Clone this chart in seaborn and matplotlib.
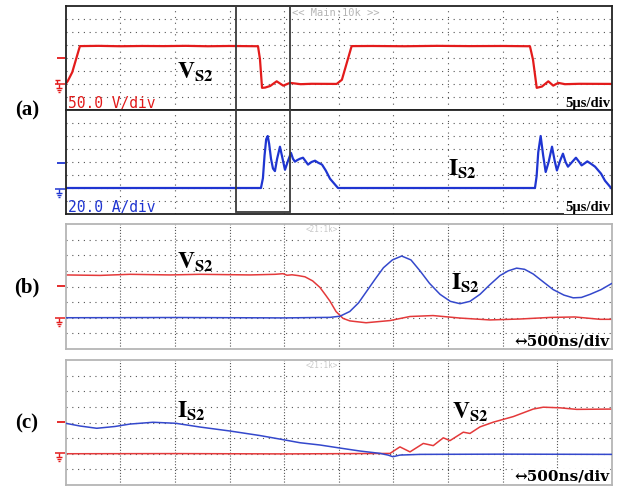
import numpy as np
import pandas as pd
import matplotlib
matplotlib.use("Agg")
import matplotlib.pyplot as plt
from matplotlib.lines import Line2D
from matplotlib.patches import Rectangle
import seaborn as sns

sns.set_style("white")
plt.rcParams['font.family'] = ['DejaVu Sans']
plt.rcParams['mathtext.fontset'] = 'stix'

# ---------------- data ----------------
# Panel (a): 5 us/div, V in volts (50 V/div), I in amps (20 A/div)
a_v_t = [0.0, 0.2, 0.6, 1.3, 3, 5, 7, 9, 11, 13, 15, 17.6, 17.78, 17.97, 18.25, 18.71,
         19.31, 19.91, 20.53, 21.5, 22.5, 24.8, 25.28, 26.17, 28, 31, 34, 37, 40, 42.49,
         42.77, 43.11, 43.59, 44.17, 44.62, 45.08, 45.7, 47, 50]
a_v_val = [0, 12, 45, 145, 146, 144.5, 145.5, 145, 146, 144.5, 145.5, 144.5, 95, -15, -14, -8,
           10, -6.5, 4, -1, 0.5, 0, 16, 145, 145.5, 144.5, 146, 145, 145.5, 144.5,
           93, -15, -10, 10, -6.5, 4, -1, 0.5, 0]
a_i_t = [0.0, 17.87, 18.05, 18.2, 18.35, 18.49, 18.62, 18.79, 18.97, 19.15, 19.35, 19.61,
         19.85, 20.07, 20.35, 20.62, 20.8, 20.98, 21.2, 21.44, 21.72,
         22.18, 22.5, 22.82, 23.1, 23.46, 23.8, 24.19, 24.92, 42.95, 43.1, 43.25, 43.47,
         43.7, 43.93, 44.2, 44.51, 44.75, 44.96, 45.25, 45.51, 45.75,
         45.97, 46.35, 46.70, 47.0, 47.22, 47.5, 47.74, 48.1, 48.45, 49.0, 49.36, 49.97]
a_i_val = [0, 0, 15, 50, 75, 80, 68, 45, 30, 26, 45, 63.5,
           45, 28, 42, 54, 45, 40.5, 43, 45, 46.6,
           36, 40, 42, 39, 36, 27, 14.3, 0, 0, 18, 55, 80,
           50, 24.6, 40, 63.5, 42, 27, 42, 52.8, 40,
           32.8, 40, 46.6, 40, 34.8, 38, 41, 37, 32.8, 22, 11.2, -1]

# Panel (b): 500 ns/div
b_v_t = [0, 314, 588, 955, 1229, 1687, 1916, 1989, 2025, 2071, 2126, 2190, 2260, 2327, 2380,
         2419, 2474, 2538, 2600, 2648, 2749, 2968, 3151, 3362, 3609, 3883, 4158, 4432, 4661,
         4890, 5000]
b_v_val = [137, 135.5, 139, 137, 139, 137, 139, 141, 136, 137.5, 135, 131, 118, 97, 72,
           53, 20, -2, -10, -12, -16, -9, 4, 7, -1, -7, -4, 1, 2.5,
           -5, -5]
b_i_t = [0, 1000, 2000, 2420, 2511, 2600, 2680, 2755, 2830, 2908, 2990, 3075, 3160, 3243,
         3330, 3426, 3520, 3609, 3700, 3792, 3880, 3975, 4050, 4127, 4200, 4279, 4370,
         4462, 4560, 4645, 4720, 4800, 4900, 4999]
b_i_val = [0, 0.3, -0.2, 0.5, 2, 8, 19, 34, 49, 64, 74, 79, 74, 60,
           44, 30, 21, 18, 21, 30, 42, 54, 60, 63.5, 62, 56, 46,
           36, 29, 25.5, 26, 30, 36, 44]

# Panel (c): 500 ns/div
c_i_t = [0, 131, 284, 451, 588, 799, 1007, 1229, 1504, 1778, 2007, 2144, 2327, 2510, 2693,
         2876, 2950, 2995, 3059, 3242, 4000, 5000]
c_i_val = [39, 35.5, 32.6, 34.9, 38, 40.3, 39, 34.2, 29.1, 23.3, 17.6, 14.1, 11.2, 7.3, 3.5,
           0.5, -1.7, -3.8, -1.7, -0.8, -0.5, -0.8]
c_v_t = [0, 1000, 2000, 2968, 3059, 3151, 3273, 3364, 3456, 3517, 3639, 3700, 3792, 3913,
         4097, 4279, 4371, 4524, 4677, 4997]
c_v_val = [0, 0.5, -0.5, 1, 22, 6, 33, 26, 51, 42, 69, 65, 86, 101,
           119, 143, 149, 147, 142, 143]

W, H = 619, 489
RED = '#e31b1b'
BLUE = '#1f35d1'
RED_L = '#e4393a'
BLUE_L = '#3448cc'


def fx(px):
    return px / W


def fy(py):
    return 1 - py / H


fig = plt.figure(figsize=(W / 100, H / 100), dpi=100)
fig.patch.set_facecolor('white')

L, R = 65.7, 612.0


def make_ax(top, bottom, xmax, spine_color):
    ax = fig.add_axes([fx(L), fy(bottom), (R - L) / W, (bottom - top) / H])
    ax.set_xlim(0, xmax)
    ax.set_xticks(np.linspace(0, xmax, 11))
    ax.tick_params(length=0, labelbottom=False, labelleft=False)
    for s in ax.spines.values():
        s.set_color(spine_color)
        s.set_linewidth(1.3)
    return ax


def grid(ax, yr, vdots=(0, (1, 4.2))):
    for xv in ax.get_xticks()[1:-1]:
        ax.axvline(xv, color='#555555', lw=0.8, ls=vdots, zorder=0)
    for yv in np.linspace(yr[0], yr[1], 9)[1:-1]:
        ax.axhline(yv, color='#555555', lw=0.8, ls=(0, (1, 4.2)), zorder=0)


# ---- Panel (a)
ax_a1 = make_ax(6.7, 111, 50, '#222222')
ax_a1.set_ylim(-100, 300)
grid(ax_a1, (-100, 300))
sns.lineplot(x=a_v_t, y=a_v_val, ax=ax_a1, color=RED, lw=1.6, sort=False, estimator=None)

ax_a2 = make_ax(111, 215, 50, '#222222')
ax_a2.set_ylim(-40, 120)
grid(ax_a2, (-40, 120))
sns.lineplot(x=a_i_t, y=a_i_val, ax=ax_a2, color=BLUE, lw=1.6, sort=False, estimator=None)
for a in (ax_a1, ax_a2):
    a.set_xlabel('')
    a.set_ylabel('')

# zoom box
fig.add_artist(Rectangle((fx(235.7), fy(213)), (289.7 - 235.7) / W, (213 - 7) / H,
                         transform=fig.transFigure, fill=False, ec='#3a3a3a', lw=1.3))

# ---- Panel (b)
ax_b = make_ax(225, 350, 5000, '#b5b5b5')
ax_b.set_ylim(-100, 300)
grid(ax_b, (-100, 300), vdots=(0, (1, 1.6)))
ax_b2 = ax_b.twinx()
ax_b2.set_ylim(-40, 120)
ax_b2.tick_params(length=0, labelright=False)
ax_b2.axis('off')
sns.lineplot(x=b_v_t, y=b_v_val, ax=ax_b, color=RED_L, lw=1.1, sort=False, estimator=None)
sns.lineplot(x=b_i_t, y=b_i_val, ax=ax_b2, color=BLUE_L, lw=1.1, sort=False, estimator=None)

# ---- Panel (c)
ax_c = make_ax(361, 486, 5000, '#b5b5b5')
ax_c.set_ylim(-100, 300)
grid(ax_c, (-100, 300), vdots=(0, (1, 1.6)))
ax_c2 = ax_c.twinx()
ax_c2.set_ylim(-40, 120)
ax_c2.axis('off')
sns.lineplot(x=c_i_t, y=c_i_val, ax=ax_c2, color=BLUE_L, lw=1.1, sort=False, estimator=None)
sns.lineplot(x=c_v_t, y=c_v_val, ax=ax_c, color=RED_L, lw=1.1, sort=False, estimator=None)
for a in (ax_b, ax_b2, ax_c, ax_c2):
    a.set_xlabel('')
    a.set_ylabel('')


# ---- left-side markers
def fline(x0, y0, x1, y1, color, lw=1.2):
    fig.add_artist(Line2D([fx(x0), fx(x1)], [fy(y0), fy(y1)], transform=fig.transFigure,
                          color=color, lw=lw, solid_capstyle='butt'))


def level(y, color):
    fline(57, y, 65, y, color, 1.3)


def ground(y, color):
    fline(55, y, 65, y, color, 1.1)
    fline(59, y, 59, y + 4, color, 1.0)
    fline(55.5, y + 4, 62.5, y + 4, color, 1.0)
    fline(57, y + 6, 61, y + 6, color, 1.0)
    fline(58.3, y + 8, 59.7, y + 8, color, 1.0)


level(59.3, RED)
ground(85, RED)
fline(55, 80.5, 60, 80.5, RED, 1.0)
fline(57.5, 80.5, 57.5, 85, RED, 1.0)
level(164, BLUE)
ground(189.5, BLUE)
level(286.7, RED)
ground(318.5, RED)
level(423.3, RED)
ground(454, RED)

# ---- texts
mono = 'DejaVu Sans Mono'
fig.text(fx(68), fy(103.5), '50.0 V/div', color=RED, fontsize=10.5, family=mono,
         va='center', ha='left')
fig.text(fx(68), fy(207.5), '20.0 A/div', color=BLUE, fontsize=10.5, family=mono,
         va='center', ha='left')
for yy in (103, 208):
    fig.text(fx(610), fy(yy), '5μs/div', color='black', fontsize=10.5, family='Liberation Serif',
             weight='bold', ha='right', va='center',
             bbox=dict(facecolor='white', edgecolor='none', pad=0.5))
for yy in (342, 477):
    fig.text(fx(610), fy(yy), '↔500ns/div', color='black', fontsize=11, family='DejaVu Serif',
             weight='bold', ha='right', va='center',
             bbox=dict(facecolor='white', edgecolor='none', pad=0.3))
fig.text(fx(292), fy(12.5), '<< Main:10k >>', color='#b5b5b5', fontsize=7.5, family=mono,
         ha='left', va='center')
for yy in (229.5, 365.5):
    fig.text(fx(306), fy(yy), '<21:1k>', color='#c8c8c8', fontsize=5.5, family=mono,
             ha='left', va='center')

lab = dict(fontsize=17, color='black', ha='left', va='baseline')
fig.text(fx(177), fy(79), r'$\mathbf{V_{S2}}$', **lab)
fig.text(fx(448), fy(176), r'$\mathbf{I_{S2}}$', **lab)
fig.text(fx(177), fy(268.5), r'$\mathbf{V_{S2}}$', **lab)
fig.text(fx(451), fy(289.5), r'$\mathbf{I_{S2}}$', **lab)
fig.text(fx(177), fy(418), r'$\mathbf{I_{S2}}$', **lab)
fig.text(fx(452), fy(419), r'$\mathbf{V_{S2}}$', **lab)

plab = dict(fontsize=15, color='black', family='Liberation Serif', weight='bold',
            ha='center', va='center')
fig.text(fx(27), fy(110), '(a)', **plab)
fig.text(fx(27), fy(287), '(b)', **plab)
fig.text(fx(27), fy(423), '(c)', **plab)

fig.savefig('out.png', dpi=100, facecolor='white')
